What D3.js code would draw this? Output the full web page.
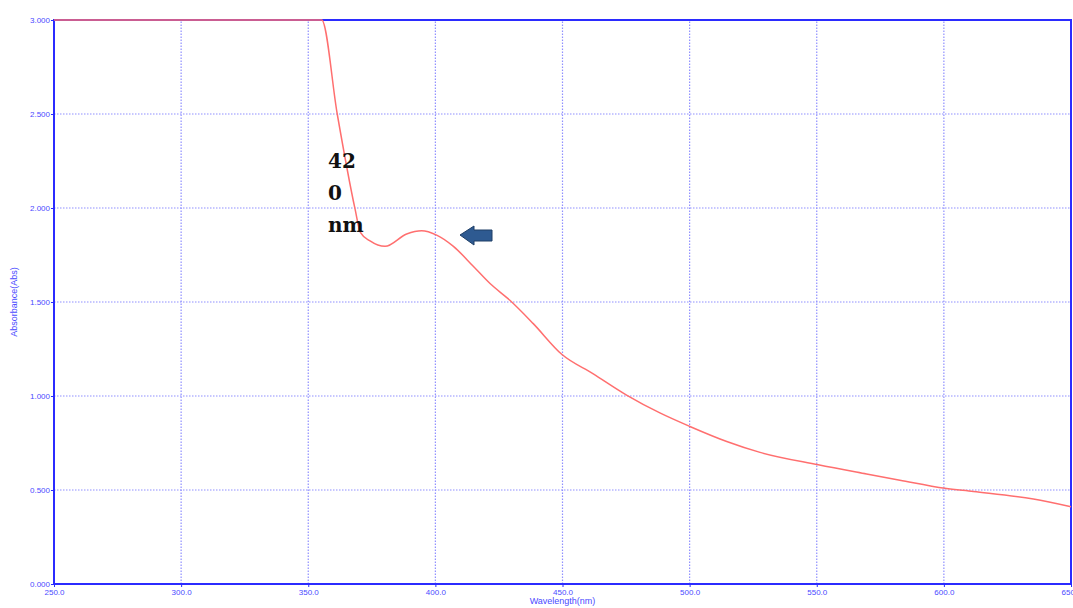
<!DOCTYPE html>
<html>
<head>
<meta charset="utf-8">
<script src="https://cdn.jsdelivr.net/npm/d3@7"></script>
<style>
  body { margin: 0; background: #fff; }
  svg { display: block; }
</style>
</head>
<body>
<svg id="chart" width="1073" height="608"></svg>
<script>
// spectrum
const wavelength = [250, 300, 355.3, 361.4, 368.4, 370.5, 374.3, 380.2, 388.7, 394.6, 400.5,
  407.1, 414.9, 421.5, 429.4, 438.5, 449.7, 462.1, 475.2, 488.3, 500.1, 514.6, 527.7,
  550.6, 569.6, 582.7, 600.4, 611.6, 635.2, 650];
const absorbance = [3.0, 3.0, 3.0, 2.5, 1.995, 1.87, 1.825, 1.796, 1.862, 1.879, 1.856,
  1.796, 1.69, 1.598, 1.508, 1.385, 1.222, 1.118, 1.005, 0.91, 0.838, 0.758, 0.7,
  0.634, 0.585, 0.552, 0.509, 0.492, 0.452, 0.411];
const xTicks = [250, 300, 350, 400, 450, 500, 550, 600, 650];
const yTicks = [0, 0.5, 1.0, 1.5, 2.0, 2.5, 3.0];
const noteLines = ["42", "0", "nm"];

const width = 1073, height = 608;
const margin = {top: 20, right: 2, bottom: 24, left: 54};
const blue = "#2b2bff";

const svg = d3.select("#chart");

const x = d3.scaleLinear().domain([250, 650]).range([margin.left, width - margin.right]);
const y = d3.scaleLinear().domain([0, 3]).range([height - margin.bottom, margin.top]);

// grid
svg.append("g")
  .selectAll("line")
  .data(xTicks.slice(1, -1))
  .join("line")
  .attr("x1", d => x(d)).attr("x2", d => x(d))
  .attr("y1", y(0)).attr("y2", y(3))
  .attr("stroke", "#8f8fff")
  .attr("stroke-width", 1.2)
  .attr("stroke-dasharray", "1.5,1.5");

svg.append("g")
  .selectAll("line")
  .data(yTicks.slice(1, -1))
  .join("line")
  .attr("x1", x(250)).attr("x2", x(650))
  .attr("y1", d => y(d)).attr("y2", d => y(d))
  .attr("stroke", "#8f8fff")
  .attr("stroke-width", 1.2)
  .attr("stroke-dasharray", "1.5,1.5");

// axes
const xAxis = svg.append("g")
  .attr("transform", `translate(0,${y(0)})`)
  .call(d3.axisBottom(x).tickValues(xTicks).tickFormat(d3.format(".1f")).tickSize(3).tickPadding(2));

const yAxis = svg.append("g")
  .attr("transform", `translate(${x(250)},0)`)
  .call(d3.axisLeft(y).tickValues(yTicks).tickFormat(d3.format(".3f")).tickSize(3).tickPadding(1));

[xAxis, yAxis].forEach(a => {
  a.select(".domain").remove();
  a.selectAll("line").attr("stroke", blue);
  a.selectAll("text")
    .attr("fill", "#4a4aff")
    .style("font-family", "Liberation Sans, Arial, sans-serif")
    .style("font-size", "8px");
});

// frame
svg.append("rect")
  .attr("x", x(250)).attr("y", y(3))
  .attr("width", x(650) - x(250)).attr("height", y(0) - y(3))
  .attr("fill", "none")
  .attr("stroke", blue)
  .attr("stroke-width", 2);

// spectrum
const line = d3.line()
  .x((d, i) => x(wavelength[i]))
  .y(d => y(d))
  .curve(d3.curveMonotoneX);

svg.append("path")
  .datum(absorbance)
  .attr("d", line)
  .attr("fill", "none")
  .attr("stroke", "#ff6f6f")
  .attr("stroke-width", 1.5);

// axis titles
svg.append("text")
  .attr("x", x(450)).attr("y", 604)
  .attr("text-anchor", "middle")
  .attr("fill", "#4a4aff")
  .style("font-family", "Liberation Sans, Arial, sans-serif")
  .style("font-size", "9px")
  .text("Wavelength(nm)");

svg.append("text")
  .attr("transform", `translate(17,${y(1.5)}) rotate(-90)`)
  .attr("text-anchor", "middle")
  .attr("fill", "#4a4aff")
  .style("font-family", "Liberation Sans, Arial, sans-serif")
  .style("font-size", "9px")
  .text("Absorbance(Abs)");

// annotation
svg.append("g")
  .selectAll("text")
  .data(noteLines)
  .join("text")
  .attr("x", 328)
  .attr("y", (d, i) => 168 + i * 32)
  .attr("fill", "#111")
  .style("font-family", "DejaVu Serif, Liberation Serif, serif")
  .style("font-weight", "bold")
  .style("font-size", "20px")
  .text(d => d);

// arrow pointing at the peak
svg.append("path")
  .attr("d", "M460,235 L474,226 L474,230 L492,230 L492,241 L474,241 L474,245 Z")
  .attr("fill", "#2e5a91")
  .attr("stroke", "#1f3e66")
  .attr("stroke-width", 1)
  .attr("stroke-linejoin", "round");
</script>
</body>
</html>
